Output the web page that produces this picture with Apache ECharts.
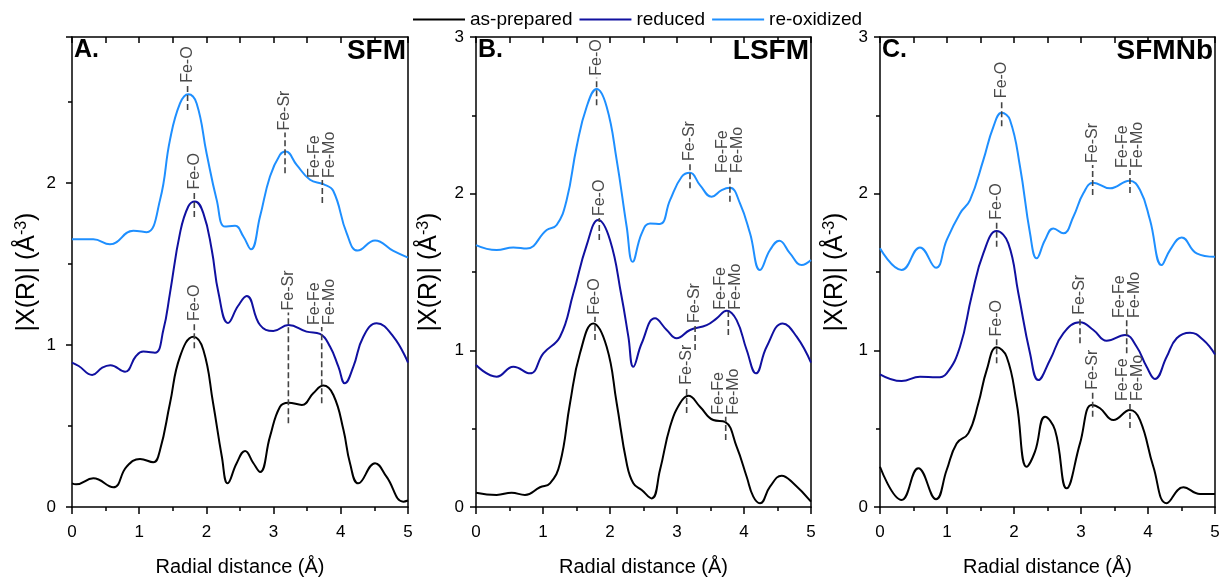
<!DOCTYPE html>
<html>
<head>
<meta charset="utf-8">
<script src="https://cdn.jsdelivr.net/npm/echarts@6/dist/echarts.min.js"></script>
<style>html,body{margin:0;padding:0;background:#fff;}#c{width:1220px;height:577px;}</style>
</head>
<body>
<div id="c"></div>
<script>
// ---------- data (x in Å, |X(R)| in Å^-3) ----------
const seriesNames = ['as-prepared', 'reduced', 're-oxidized'];
const panelLetters = ['A.', 'B.', 'C.'];
const panelNames = ['SFM', 'LSFM', 'SFMNb'];
const yMaxes = [2.9, 3, 3];

const sfmAsPrepared = [[0,0.146],[0.06,0.14],[0.317,0.177],[0.615,0.122],[0.813,0.249],[1.012,0.296],[1.21,0.276],[1.31,0.352],[1.458,0.64],[1.607,0.928],[1.806,1.051],[1.955,0.969],[2.10,0.64],[2.23,0.31],[2.316,0.146],[2.45,0.27],[2.575,0.346],[2.7,0.27],[2.8,0.216],[2.946,0.434],[3.095,0.619],[3.22,0.644],[3.42,0.63],[3.59,0.702],[3.74,0.749],[3.89,0.691],[4.04,0.475],[4.137,0.27],[4.26,0.146],[4.51,0.27],[4.68,0.187],[4.93,0.033],[5.0,0.04]];
const sfmReduced = [[0,0.891],[0.1,0.87],[0.3,0.815],[0.45,0.86],[0.57,0.875],[0.79,0.835],[0.95,0.93],[1.06,0.959],[1.235,0.952],[1.36,1.093],[1.458,1.32],[1.607,1.69],[1.73,1.854],[1.83,1.885],[1.954,1.813],[2.08,1.586],[2.18,1.32],[2.321,1.135],[2.47,1.24],[2.6,1.302],[2.798,1.123],[2.996,1.086],[3.22,1.123],[3.49,1.082],[3.69,1.068],[3.839,0.99],[3.964,0.866],[4.06,0.763],[4.187,0.866],[4.335,1.051],[4.533,1.134],[4.782,1.051],[5.0,0.891]];
const sfmReoxidized = [[0,1.652],[0.317,1.652],[0.565,1.621],[0.913,1.704],[1.111,1.696],[1.31,1.895],[1.458,2.265],[1.607,2.49],[1.73,2.547],[1.855,2.49],[2.004,2.18],[2.153,1.895],[2.277,1.73],[2.426,1.735],[2.55,1.669],[2.664,1.59],[2.798,1.792],[2.946,2.039],[3.095,2.173],[3.18,2.193],[3.343,2.111],[3.542,2.019],[3.74,1.992],[3.889,1.95],[4.087,1.69],[4.251,1.582],[4.509,1.644],[4.782,1.58],[5.0,1.539]];

const lsfmAsPrepared = [[0,0.091],[0.308,0.077],[0.532,0.091],[0.731,0.077],[0.955,0.126],[1.104,0.151],[1.254,0.279],[1.403,0.662],[1.552,0.981],[1.751,1.172],[1.95,1.023],[2.1,0.662],[2.249,0.279],[2.348,0.151],[2.473,0.108],[2.622,0.055],[2.746,0.236],[2.896,0.512],[3.045,0.662],[3.17,0.71],[3.343,0.64],[3.542,0.555],[3.716,0.544],[3.89,0.385],[4.04,0.193],[4.139,0.066],[4.239,0.024],[4.388,0.13],[4.562,0.2],[4.736,0.151],[5.0,0.034]];
const lsfmReduced = [[0,0.906],[0.308,0.832],[0.557,0.895],[0.806,0.853],[1.005,0.981],[1.254,1.087],[1.453,1.364],[1.652,1.672],[1.826,1.832],[2.0,1.704],[2.17,1.35],[2.274,1.087],[2.348,0.895],[2.473,1.045],[2.672,1.204],[2.846,1.13],[2.995,1.077],[3.194,1.13],[3.443,1.161],[3.592,1.204],[3.741,1.253],[3.89,1.193],[4.04,1.002],[4.179,0.853],[4.338,1.023],[4.577,1.172],[4.786,1.087],[5.0,0.921]];
const lsfmReoxidized = [[0,1.672],[0.308,1.64],[0.557,1.657],[0.756,1.65],[1.055,1.768],[1.204,1.8],[1.353,1.959],[1.502,2.3],[1.652,2.555],[1.801,2.668],[1.95,2.555],[2.1,2.214],[2.249,1.789],[2.338,1.565],[2.473,1.747],[2.597,1.81],[2.746,1.807],[2.896,1.959],[3.07,2.108],[3.194,2.133],[3.343,2.055],[3.517,1.98],[3.667,2.023],[3.791,2.038],[3.94,1.938],[4.09,1.747],[4.239,1.512],[4.388,1.64],[4.527,1.7],[4.687,1.619],[4.861,1.544],[5.0,1.576]];

const sfmnbAsPrepared = [[0,0.257],[0.323,0.045],[0.572,0.247],[0.836,0.049],[0.995,0.236],[1.144,0.406],[1.318,0.47],[1.468,0.662],[1.592,0.874],[1.741,1.019],[1.89,0.959],[2.04,0.662],[2.189,0.257],[2.313,0.353],[2.463,0.576],[2.612,0.491],[2.786,0.119],[2.985,0.406],[3.159,0.651],[3.284,0.63],[3.483,0.555],[3.731,0.619],[3.881,0.555],[4.08,0.257],[4.279,0.024],[4.527,0.126],[4.776,0.083],[5.0,0.083]];
const sfmnbReduced = [[0,0.847],[0.323,0.804],[0.597,0.832],[0.846,0.828],[0.995,0.853],[1.194,1.023],[1.37,1.35],[1.542,1.619],[1.741,1.761],[1.915,1.683],[2.065,1.364],[2.239,0.981],[2.363,0.81],[2.537,0.938],[2.736,1.108],[2.985,1.179],[3.184,1.13],[3.383,1.061],[3.657,1.098],[3.831,1.023],[3.98,0.895],[4.104,0.817],[4.279,0.959],[4.428,1.077],[4.627,1.112],[4.826,1.066],[5.0,0.974]];
const sfmnbReoxidized = [[0,1.651],[0.323,1.512],[0.597,1.657],[0.836,1.527],[0.995,1.704],[1.194,1.874],[1.343,1.959],[1.542,2.214],[1.692,2.427],[1.816,2.516],[1.94,2.47],[2.09,2.172],[2.239,1.747],[2.338,1.587],[2.463,1.704],[2.587,1.778],[2.736,1.747],[2.886,1.853],[3.035,2.002],[3.184,2.07],[3.433,2.034],[3.721,2.083],[3.881,2.023],[4.03,1.832],[4.204,1.544],[4.328,1.64],[4.502,1.721],[4.726,1.619],[5.0,1.597]];

// annotations: [x, dash bottom, dash top, label]
const sfmNotes = [[1.72,2.45,2.605,'Fe-O'],[3.17,2.06,2.31,'Fe-Sr'],[3.725,1.876,2.018,'Fe-Fe\nFe-Mo'],[1.82,1.79,1.946,'Fe-O'],[1.82,0.98,1.135,'Fe-O'],[3.22,0.517,1.2,'Fe-Sr'],[3.716,0.64,1.11,'Fe-Fe\nFe-Mo']];
const lsfmNotes = [[1.80,2.565,2.74,'Fe-O'],[3.194,2.035,2.195,'Fe-Sr'],[3.79,1.948,2.119,'Fe-Fe\nFe-Mo'],[1.84,1.704,1.844,'Fe-O'],[3.27,1.002,1.161,'Fe-Sr'],[3.766,1.098,1.246,'Fe-Fe\nFe-Mo'],[1.776,1.066,1.214,'Fe-O'],[3.144,0.6,0.768,'Fe-Sr'],[3.727,0.428,0.576,'Fe-Fe\nFe-Mo']];
const sfmnbNotes = [[1.816,2.431,2.597,'Fe-O'],[3.174,1.991,2.183,'Fe-Sr'],[3.731,2.004,2.151,'Fe-Fe\nFe-Mo'],[1.741,1.661,1.821,'Fe-O'],[2.985,1.045,1.214,'Fe-Sr'],[3.682,0.981,1.193,'Fe-Fe\nFe-Mo'],[1.741,0.917,1.076,'Fe-O'],[3.174,0.576,0.736,'Fe-Sr'],[3.731,0.504,0.664,'Fe-Fe\nFe-Mo']];

const panelData = [
  [sfmAsPrepared, sfmReduced, sfmReoxidized],
  [lsfmAsPrepared, lsfmReduced, lsfmReoxidized],
  [sfmnbAsPrepared, sfmnbReduced, sfmnbReoxidized]
];
const panelNotes = [sfmNotes, lsfmNotes, sfmnbNotes];

// ---------- styling / layout ----------
const FONT = 'Liberation Sans, Arial, sans-serif';
const colors = ['#000000', '#1010a0', '#1e8fff'];
const grids = [
  {left: 72, right: 812, top: 37, bottom: 70, outerBoundsMode: 'none', containLabel: false},
  {left: 476, right: 409, top: 37, bottom: 70, outerBoundsMode: 'none', containLabel: false},
  {left: 880, right: 5, top: 37, bottom: 70, outerBoundsMode: 'none', containLabel: false}
];
const yNameGaps = [31, 33, 31];
const yLabelMargins = [16, 12, 12];

const xAxes = [], yAxes = [], series = [], titles = [];
grids.forEach((g, i) => {
  xAxes.push({
    gridIndex: i, type: 'value', min: 0, max: 5, interval: 1, position: 'bottom',
    name: 'Radial distance (Å)', nameLocation: 'middle', nameGap: 50, nameMoveOverlap: false,
    nameTextStyle: {fontFamily: FONT, fontSize: 20, color: '#000'},
    axisLine: {show: true, onZero: false, lineStyle: {color: '#000', width: 1.5}},
    axisTick: {show: true, inside: false, length: 7, lineStyle: {color: '#000', width: 1.5}},
    minorTick: {show: true, splitNumber: 2, length: 4, lineStyle: {color: '#000', width: 1.5}},
    axisLabel: {fontFamily: FONT, fontSize: 17, color: '#000', margin: 17},
    splitLine: {show: false}
  });
  xAxes.push({
    gridIndex: i, type: 'value', min: 0, max: 5, interval: 1, position: 'top',
    axisLine: {show: true, onZero: false, lineStyle: {color: '#000', width: 1.5}},
    axisTick: {show: true, inside: true, length: 6, lineStyle: {color: '#000', width: 1.5}},
    minorTick: {show: true, splitNumber: 2, length: 6, lineStyle: {color: '#000', width: 1.5}},
    axisLabel: {show: false}, splitLine: {show: false}
  });
  yAxes.push({
    gridIndex: i, type: 'value', min: 0, max: yMaxes[i], interval: 1, position: 'left',
    name: '|X(R)| (Å{sup|-3})', nameLocation: 'middle', nameGap: yNameGaps[i], nameRotate: 90,
    nameMoveOverlap: false,
    nameTextStyle: {fontFamily: FONT, fontSize: 25, color: '#000',
      rich: {sup: {fontFamily: FONT, fontSize: 16, color: '#000', verticalAlign: 'top', padding: [0, 0, 11, 0]}}},
    axisLine: {show: true, onZero: false, lineStyle: {color: '#000', width: 1.5}},
    axisTick: {show: true, inside: false, length: 6, lineStyle: {color: '#000', width: 1.5}},
    minorTick: {show: true, splitNumber: 2, length: 4, lineStyle: {color: '#000', width: 1.5}},
    axisLabel: {fontFamily: FONT, fontSize: 17, color: '#000', margin: yLabelMargins[i], showMaxLabel: i !== 0},
    splitLine: {show: false}
  });
  yAxes.push({
    gridIndex: i, type: 'value', min: 0, max: yMaxes[i], interval: 1, position: 'right',
    axisLine: {show: true, onZero: false, lineStyle: {color: '#000', width: 1.5}},
    axisTick: {show: false}, axisLabel: {show: false}, splitLine: {show: false}
  });

  panelData[i].forEach((d, k) => {
    series.push({
      type: 'line', name: seriesNames[k], xAxisIndex: 2 * i, yAxisIndex: 2 * i,
      data: d, smooth: 0.45, showSymbol: false, symbol: 'none',
      lineStyle: {color: colors[k], width: 2}, itemStyle: {color: colors[k]},
      z: 3, animation: false
    });
  });

  const notes = panelNotes[i];
  series.push({
    type: 'custom', xAxisIndex: 2 * i, yAxisIndex: 2 * i, z: 5, animation: false, silent: true,
    data: notes.map(n => [n[0], n[1], n[2]]),
    encode: {x: 0, y: [1, 2]},
    renderItem: (params, api) => {
      const x = api.value(0);
      const p1 = api.coord([x, api.value(1)]);
      const p2 = api.coord([x, api.value(2)]);
      return {
        type: 'group',
        children: [
          {type: 'line', shape: {x1: p1[0], y1: p1[1], x2: p2[0], y2: p2[1]},
           style: {stroke: '#444', lineWidth: 1.6, lineDash: [6, 3]}},
          {type: 'text', x: p2[0], y: p2[1] - 2, rotation: Math.PI / 2,
           style: {text: notes[params.dataIndex][3], fill: '#4a4a4a', font: '16px ' + FONT,
                   align: 'left', verticalAlign: 'middle', lineHeight: 15}}
        ]
      };
    }
  });

  titles.push({text: panelLetters[i], left: g.left + 2, top: 38,
    textStyle: {fontFamily: FONT, fontSize: 25, fontWeight: 'bold', color: '#000'}, padding: 0});
  titles.push({text: panelNames[i], right: g.right + 2, top: 37,
    textStyle: {fontFamily: FONT, fontSize: 28, fontWeight: 'bold', color: '#000'}, padding: 0});
});

const chart = echarts.init(document.getElementById('c'), null, {renderer: 'canvas'});
chart.setOption({
  animation: false,
  backgroundColor: '#fff',
  title: titles,
  legend: {
    data: seriesNames.map(n => ({name: n, icon: 'rect'})),
    top: 10, left: 413, padding: 0, itemWidth: 52, itemHeight: 2, itemGap: 7,
    textStyle: {fontFamily: FONT, fontSize: 19, color: '#000'}
  },
  grid: grids,
  xAxis: xAxes,
  yAxis: yAxes,
  series: series
});
</script>
</body>
</html>
